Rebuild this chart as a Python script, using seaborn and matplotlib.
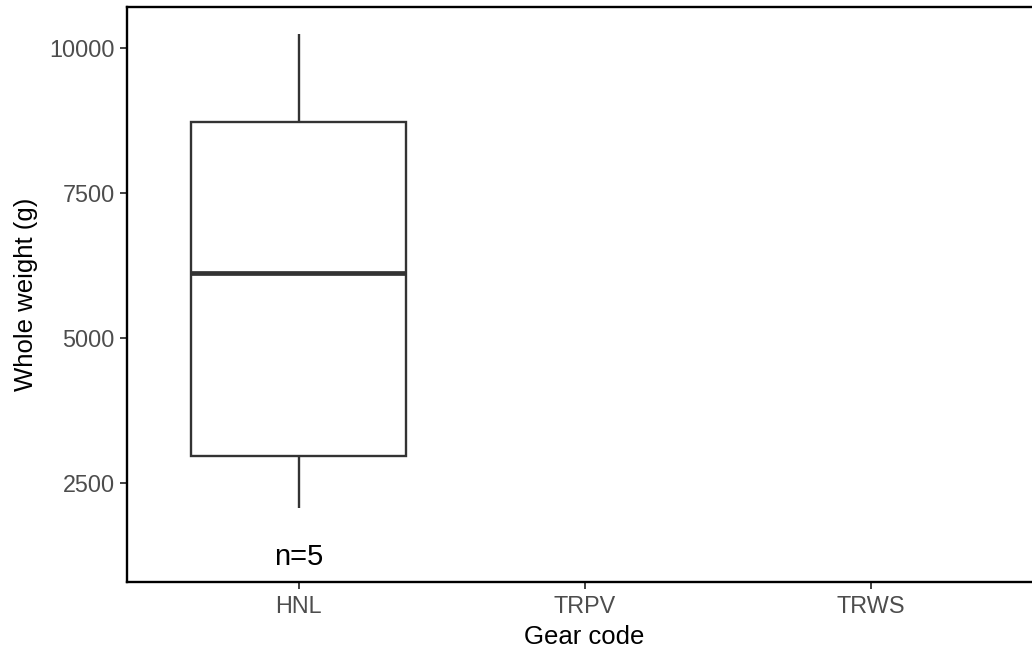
import pandas as pd
import numpy as np
import matplotlib
matplotlib.use("Agg")
import matplotlib.pyplot as plt
import seaborn as sns

# Data
gear_levels = ["HNL", "TRPV", "TRWS"]
hnl_weights = [2069, 2971, 6121, 8734, 10247]
n_labels = {"HNL": "n=5"}
label_y = 1230

sns.set_theme(style="white")
plt.rcParams['font.family'] = ['Liberation Sans', 'DejaVu Sans']

df = pd.DataFrame({
    "gear": pd.Categorical(["HNL"] * len(hnl_weights), categories=gear_levels),
    "weight": hnl_weights,
})

fig = plt.figure(figsize=(10.32, 6.54), dpi=100)
ax = fig.add_axes([127 / 1032, 72.3 / 654, 915.2 / 1032, 574.4 / 654])

line_col = "#333333"
sns.boxplot(data=df, x="gear", y="weight", order=gear_levels, width=0.75,
            color="white", linecolor=line_col, linewidth=1.7, showcaps=False,
            medianprops={"linewidth": 3.4, "color": line_col},
            fliersize=0, ax=ax)

for i, g in enumerate(gear_levels):
    if g in n_labels:
        ax.text(i, label_y, n_labels[g], ha="center", va="center",
                fontsize=21, color="black")

ax.set_xlim(-0.6, 2.6)
ax.set_ylim(803, 10707)
ax.set_yticks([2500, 5000, 7500, 10000])
ax.set_yticklabels(["2500", "5000", "7500", "10000"])

for side in ["left", "bottom", "top", "right"]:
    ax.spines[side].set_color("black")
    ax.spines[side].set_linewidth(1.7)

ax.tick_params(axis="both", which="major", length=4.8, width=1.3, color=line_col,
               labelsize=16.8, labelcolor="#4D4D4D", left=True, bottom=True)
ax.tick_params(axis="x", pad=4.5)
ax.tick_params(axis="y", pad=4)
ax.set_xlabel("Gear code", fontsize=18.5, color="black", labelpad=5)
ax.set_ylabel("Whole weight (g)", fontsize=18.5, color="black", labelpad=8)
ax.grid(False)

fig.savefig("out.png", dpi=100)
